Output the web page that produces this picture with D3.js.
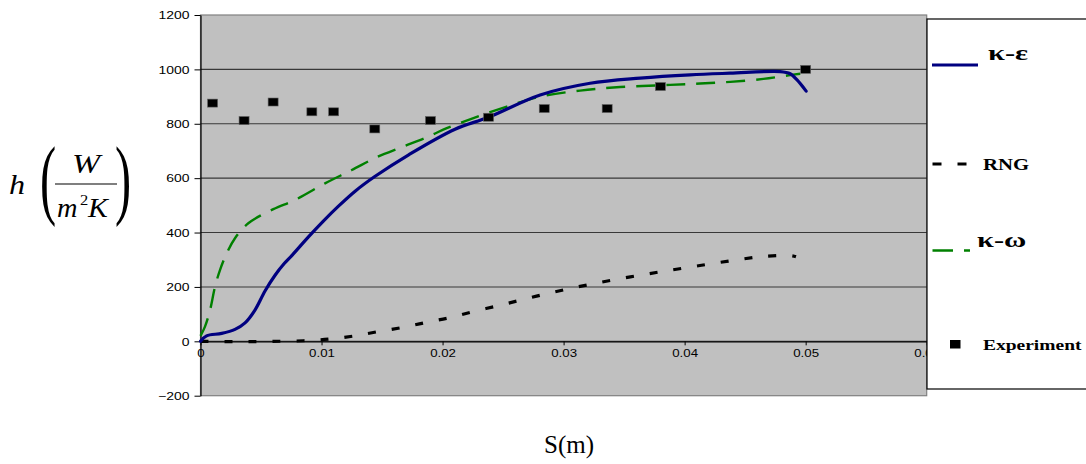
<!DOCTYPE html>
<html>
<head>
<meta charset="utf-8">
<script src="https://cdn.jsdelivr.net/npm/d3@7"></script>
<style>
  html, body { margin: 0; padding: 0; background: #fff; }
  svg { display: block; }
</style>
</head>
<body>
<svg id="chart" width="1086" height="464"></svg>
<script>
// Heat transfer coefficient h along the surface, S (m)
const seriesNames = ["κ-ε", "RNG", "κ-ω", "Experiment"];

// κ-ε model
const sKE = [0, 0.0005, 0.00175, 0.00285, 0.00368, 0.0045, 0.00533, 0.00616, 0.0069, 0.0076,
  0.0089, 0.01015, 0.0114, 0.0128, 0.0144, 0.0172, 0.02103, 0.02379, 0.02806, 0.03219,
  0.03632, 0.04045, 0.04376, 0.04789, 0.04872, 0.04927, 0.05004];
const hKE = [0, 20, 29, 44, 68, 115, 185, 243, 285, 318,
  383, 442, 497, 553, 606, 686, 780, 824, 906, 949,
  968, 980, 986, 992, 984, 962, 920];

// RNG model
const sRNG = [0, 0.002, 0.004, 0.006, 0.0085, 0.0106, 0.0126, 0.0146, 0.0167, 0.0187,
  0.0207, 0.0226, 0.0246, 0.0265, 0.0285, 0.0305, 0.0325, 0.0345, 0.0367, 0.0386,
  0.0406, 0.0426, 0.0447, 0.0467, 0.0488, 0.0492];
const hRNG = [0, -1, -1, 0, 2, 8, 19, 35, 51, 70,
  88, 110, 131, 152, 174, 194, 212, 229, 246, 260,
  274, 288, 302, 313, 315, 311];

// κ-ω model
const sKW = [0, 0.00037, 0.00079, 0.0012, 0.00161, 0.00217, 0.00285, 0.00395, 0.00602, 0.00781,
  0.01029, 0.0125, 0.01456, 0.01663, 0.01883, 0.02035, 0.02255, 0.02531, 0.02806, 0.03136,
  0.03467, 0.0388, 0.04128, 0.04376, 0.04651, 0.04872, 0.04955];
const hKW = [20, 54, 115, 201, 262, 324, 379, 434, 486, 520,
  581, 630, 677, 714, 753, 784, 821, 863, 900, 922,
  935, 943, 948, 954, 965, 979, 984];

// Measurements
const sExp = [0.001, 0.0036, 0.006, 0.0092, 0.011, 0.0144, 0.019, 0.0238, 0.0284, 0.0336, 0.038, 0.05];
const hExp = [876, 812, 880, 844, 844, 781, 812, 824, 856, 856, 937, 1000];

const yTicks = [-200, 0, 200, 400, 600, 800, 1000, 1200];
const xTicks = [0, 0.01, 0.02, 0.03, 0.04, 0.05, 0.06];

const svg = d3.select("#chart");
const plotL = 200.5, plotR = 926.7, plotT = 15, plotB = 395.7;

const x = d3.scaleLinear().domain([0, 0.06]).range([plotL, plotR]);
const y = d3.scaleLinear().domain([-200, 1200]).range([plotB, plotT]);

const SANS = "'Liberation Sans', Arial, sans-serif";
const SERIF = "'Liberation Serif', 'Times New Roman', serif";

// plot area
svg.append("rect")
  .attr("x", plotL).attr("y", plotT)
  .attr("width", plotR - plotL).attr("height", plotB - plotT)
  .attr("fill", "#c0c0c0").attr("stroke", "#808080").attr("stroke-width", 1.2);

// horizontal gridlines
svg.append("g").selectAll("line")
  .data(yTicks.filter(v => v > -200 && v < 1200))
  .join("line")
  .attr("x1", plotL).attr("x2", plotR)
  .attr("y1", d => y(d)).attr("y2", d => y(d))
  .attr("stroke", "#383838").attr("stroke-width", 1.1);

// y axis
const yAxis = svg.append("g")
  .attr("transform", `translate(${plotL},0)`)
  .call(d3.axisLeft(y).tickValues(yTicks).tickFormat(d3.format("d")).tickSize(6).tickSizeOuter(0));
yAxis.select(".domain").attr("stroke", "#000").attr("stroke-width", 1.2);
yAxis.selectAll(".tick line").attr("stroke", "#000");
yAxis.selectAll(".tick text")
  .attr("x", -8.3).attr("dy", "0.36em")
  .attr("transform", "scale(1.33,1)")
  .style("font-family", SANS).style("font-size", "10.5px").attr("fill", "#000");

// x axis along h = 0
const xAxis = svg.append("g")
  .attr("transform", `translate(0,${y(0)})`)
  .call(d3.axisBottom(x).tickValues(xTicks)
    .tickFormat(d => d === 0 ? "0" : d.toFixed(2)).tickSize(4).tickSizeOuter(0));
xAxis.select(".domain").attr("stroke", "#000").attr("stroke-width", 1.2);
xAxis.selectAll(".tick line").attr("stroke", "#000");
xAxis.selectAll(".tick text")
  .attr("y", 12).attr("dy", "0.36em")
  .attr("transform", "scale(1.33,1)")
  .style("font-family", SANS).style("font-size", "10px").attr("fill", "#000");

// curves
const line = d3.line().x(d => x(d[0])).y(d => y(d[1])).curve(d3.curveCatmullRom.alpha(0.5));
const zip = (a, b) => a.map((v, i) => [v, b[i]]);

svg.append("path").datum(zip(sRNG, hRNG))
  .attr("d", line).attr("fill", "none")
  .attr("stroke", "#000").attr("stroke-width", 3.2).attr("stroke-dasharray", "8,16");

svg.append("path").datum(zip(sKW, hKW))
  .attr("d", line).attr("fill", "none")
  .attr("stroke", "#008000").attr("stroke-width", 2.4).attr("stroke-dasharray", "19,11");

svg.append("path").datum(zip(sKE, hKE))
  .attr("d", line).attr("fill", "none")
  .attr("stroke", "#000080").attr("stroke-width", 3.2)
  .attr("stroke-linejoin", "round").attr("stroke-linecap", "round");

// experimental points
svg.append("g").selectAll("rect")
  .data(zip(sExp, hExp))
  .join("rect")
  .attr("x", d => x(d[0]) - 5).attr("y", d => y(d[1]) - 4)
  .attr("width", 10).attr("height", 8)
  .attr("fill", "#000").attr("stroke", "#606060").attr("stroke-width", 0.6);

// legend
const lg = svg.append("g");
lg.append("rect")
  .attr("x", 927).attr("y", 19).attr("width", 200).attr("height", 370)
  .attr("fill", "#fff").attr("stroke", "#000").attr("stroke-width", 1.2);

function label(g, px, py, str, o) {
  return g.append("text")
    .attr("transform", `translate(${px},${py}) scale(${o.sx || 1},${o.sy || 1})`)
    .attr("text-anchor", o.anchor || "start")
    .style("font-family", o.family || SERIF)
    .style("font-size", o.size + "px")
    .style("font-weight", o.weight || "normal")
    .style("font-style", o.style || "normal")
    .attr("fill", "#000")
    .text(str);
}

lg.append("line").attr("x1", 932).attr("x2", 978).attr("y1", 65).attr("y2", 65)
  .attr("stroke", "#000080").attr("stroke-width", 3);
label(lg, 988, 60, seriesNames[0], { size: 21, weight: "bold", sx: 1.45 });

lg.append("line").attr("x1", 932.5).attr("x2", 967).attr("y1", 164).attr("y2", 164)
  .attr("stroke", "#000").attr("stroke-width", 3.2).attr("stroke-dasharray", "9,16");
label(lg, 983, 170, seriesNames[1], { size: 16, weight: "bold", sx: 1.3 });

lg.append("line").attr("x1", 932.5).attr("x2", 970).attr("y1", 250.5).attr("y2", 250.5)
  .attr("stroke", "#008000").attr("stroke-width", 2.4).attr("stroke-dasharray", "20.5,11");
label(lg, 977, 247, seriesNames[2], { size: 21, weight: "bold", sx: 1.45 });

lg.append("rect").attr("x", 950).attr("y", 340).attr("width", 10.5).attr("height", 8.5).attr("fill", "#000");
label(lg, 983, 350, seriesNames[3], { size: 15, weight: "bold", sx: 1.3 });

// axis titles
label(svg, 569, 453, "S(m)", { size: 25, anchor: "middle" });

const yt = svg.append("g");
label(yt, 9, 194, "h", { size: 28, style: "italic", sx: 1.15 });
label(yt, 40, 208, "(", { size: 88, sx: 0.55 });
label(yt, 115, 208, ")", { size: 88, sx: 0.55 });
label(yt, 86, 173, "W", { size: 27, style: "italic", anchor: "middle", sx: 1.25 });
yt.append("line").attr("x1", 55).attr("x2", 117).attr("y1", 184).attr("y2", 184)
  .attr("stroke", "#000").attr("stroke-width", 1.2);
label(yt, 57, 217, "m", { size: 27, style: "italic", sx: 1.05 });
label(yt, 80, 205, "2", { size: 15, sx: 1.1 });
label(yt, 88, 217, "K", { size: 27, style: "italic", sx: 1.1 });
</script>
</body>
</html>
